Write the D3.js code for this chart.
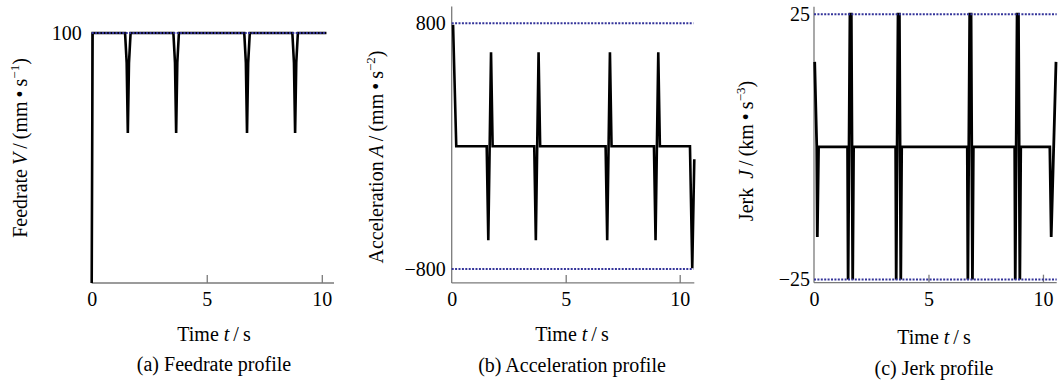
<!DOCTYPE html>
<html>
<head>
<meta charset="utf-8">
<script src="https://cdn.jsdelivr.net/npm/d3@7"></script>
<style>
  html, body { margin: 0; padding: 0; background: #fff; }
  svg { display: block; font-family: "Liberation Serif", "Times New Roman", serif; }
</style>
</head>
<body>
<svg id="chart" width="1062" height="385"></svg>
<script>
// Shared x-axis ticks (time, s)
const timeTicks = [0, 5, 10];

// (a) Feedrate profile, mm/s
const feedTime  = [0, 0.04, 1.45, 1.52, 1.57, 1.62, 1.69, 3.55, 3.62, 3.67, 3.72, 3.79,
                   6.63, 6.70, 6.75, 6.80, 6.87, 8.72, 8.79, 8.84, 8.89, 8.96, 10.2];
const feedValue = [0, 100, 100, 88, 60, 88, 100, 100, 88, 60, 88, 100,
                   100, 88, 60, 88, 100, 100, 88, 60, 88, 100, 100];
const feedTicks = [100];
const feedLimit = [100];

// (b) Acceleration profile, mm/s^2
const accTime  = [0.06, 0.2, 1.535, 1.605, 1.665, 1.725, 1.795, 3.62, 3.69, 3.75, 3.81, 3.88,
                  6.75, 6.82, 6.88, 6.94, 7.01, 8.87, 8.94, 9.0, 9.06, 9.13, 10.45, 10.55, 10.64];
const accValue = [790, 0, 0, -612, 0, 612, 0, 0, -612, 0, 612, 0,
                  0, -612, 0, 612, 0, 0, -612, 0, 612, 0, 0, -795, -85];
const accTicks = [-800, 800];
const accLimit = [-800, 800];

// (c) Jerk profile, km/s^3
const jerkTime  = [0.03, 0.12, 0.145, 0.2,
                   1.465, 1.49, 1.57, 1.63, 1.69, 1.73,
                   3.565, 3.59, 3.67, 3.73, 3.79, 3.83,
                   6.695, 6.72, 6.80, 6.86, 6.92, 6.96,
                   8.765, 8.79, 8.87, 8.93, 8.99, 9.03,
                   10.3, 10.36, 10.57];
const jerkValue = [16, 0, -17, 0,
                   0, -25, 25, 25, -25, 0,
                   0, -25, 25, 25, -25, 0,
                   0, -25, 25, 25, -25, 0,
                   0, -25, 25, 25, -25, 0,
                   0, -17, 16];
const jerkTicks = [-25, 25];
const jerkLimit = [-25, 25];

const svg = d3.select("#chart");
const axisColor = "#7a7a7a";
const limitColor = "#34349a";

function zip(ts, vs) { return ts.map((t, i) => [t, vs[i]]); }

function tickText(v) { return v < 0 ? "\u2212" + Math.abs(v) : String(v); }

function panel(cfg) {
  const x = d3.scaleLinear().domain(cfg.xDomain).range(cfg.xRange);
  const y = d3.scaleLinear().domain(cfg.yDomain).range(cfg.yRange);
  const g = svg.append("g");

  // bottom axis
  const xAxis = d3.axisBottom(x).tickValues(timeTicks).tickSize(0).tickPadding(9)
    .tickFormat(d3.format("d"));
  const gx = g.append("g").attr("transform", `translate(0,${cfg.yRange[0]})`).call(xAxis);
  gx.select(".domain").attr("stroke", axisColor).attr("stroke-width", 1.3)
    .attr("d", `M${cfg.xRange[0]},0H${cfg.xRange[1]}`);
  gx.selectAll(".tick text").attr("font-size", 20).attr("fill", "#000")
    .attr("font-family", "Liberation Serif");
  gx.selectAll(".tick").filter(d => d !== 0).append("line")
    .attr("y1", 0).attr("y2", -8).attr("stroke", axisColor).attr("stroke-width", 1.3);

  // left axis
  const yAxis = d3.axisLeft(y).tickValues(cfg.ticks).tickSize(0).tickPadding(cfg.tickPad)
    .tickFormat(tickText);
  const gy = g.append("g").attr("transform", `translate(${cfg.xRange[0]},0)`).call(yAxis);
  gy.select(".domain").attr("stroke", axisColor).attr("stroke-width", 1.3)
    .attr("d", `M0,${cfg.yRange[0]}V${cfg.yRange[1]}`);
  gy.selectAll(".tick text").attr("font-size", 20).attr("fill", "#000")
    .attr("font-family", "Liberation Serif");

  // curve
  const line = d3.line().x(d => x(d[0])).y(d => y(d[1]));
  g.append("path").datum(zip(cfg.t, cfg.v))
    .attr("d", line).attr("fill", "none")
    .attr("stroke", "#000").attr("stroke-width", cfg.lw)
    .attr("stroke-linejoin", "miter").attr("stroke-miterlimit", 10);

  // limit lines (dotted), drawn over the curve
  cfg.limits.forEach(v => {
    g.append("line")
      .attr("x1", x(0)).attr("x2", x(cfg.limitEnd))
      .attr("y1", y(v)).attr("y2", y(v))
      .attr("stroke", limitColor).attr("stroke-width", 2)
      .attr("stroke-dasharray", "2,1.4");
  });

  // y label
  const yl = g.append("text")
    .attr("transform", `translate(${cfg.ylx},${cfg.yly}) rotate(-90)`)
    .attr("text-anchor", "middle").attr("font-size", 20).attr("fill", "#000");
  cfg.ylabel(yl);

  // x label
  const xl = g.append("text").attr("x", cfg.cx).attr("y", cfg.xly)
    .attr("text-anchor", "middle").attr("font-size", 20).attr("fill", "#000");
  xl.append("tspan").text("Time ");
  xl.append("tspan").attr("font-style", "italic").text("t");
  xl.append("tspan").text("\u2009/\u2009s");

  // caption
  g.append("text").attr("x", cfg.cx).attr("y", cfg.capy)
    .attr("text-anchor", "middle").attr("font-size", 20).attr("fill", "#000")
    .text(cfg.caption);
}

function unitLabel(el, name, sym, unit, exp) {
  el.append("tspan").text(name + "\u2009");
  el.append("tspan").attr("font-style", "italic").text(sym);
  el.append("tspan").text("\u2009/\u2009(" + unit + "\u2009\u2022\u2009s");
  el.append("tspan").attr("font-size", 13).attr("dy", -8).text(exp);
  el.append("tspan").attr("dy", 8).text(")");
}

panel({
  xDomain: [0, 10.53], xRange: [91.7, 334],
  yDomain: [0, 100], yRange: [283, 33],
  t: feedTime, v: feedValue, ticks: feedTicks, limits: feedLimit, limitEnd: 10.2,
  tickPad: 10, lw: 2.6,
  ylx: 27, yly: 148, cx: 214, xly: 341, capy: 371,
  ylabel: el => unitLabel(el, "Feedrate", "V", "mm", "\u22121"),
  caption: "(a) Feedrate profile"
});

panel({
  xDomain: [0, 10.64], xRange: [451.7, 694.3],
  yDomain: [-890, 910], yRange: [282.9, 6.4],
  t: accTime, v: accValue, ticks: accTicks, limits: accLimit, limitEnd: 10.6,
  tickPad: 6, lw: 2.6,
  ylx: 383, yly: 157, cx: 572, xly: 341, capy: 372,
  ylabel: el => unitLabel(el, "Acceleration", "A", "mm", "\u22122"),
  caption: "(b) Acceleration profile"
});

panel({
  xDomain: [0, 10.6], xRange: [814, 1056.7],
  yDomain: [-25.6, 26.4], yRange: [282.7, 6.7],
  t: jerkTime, v: jerkValue, ticks: jerkTicks, limits: jerkLimit, limitEnd: 10.6,
  tickPad: 4, lw: 2.8,
  ylx: 753, yly: 151, cx: 934, xly: 344, capy: 375,
  ylabel: el => unitLabel(el, "Jerk ", "J", "km", "\u22123"),
  caption: "(c) Jerk profile"
});
</script>
</body>
</html>
